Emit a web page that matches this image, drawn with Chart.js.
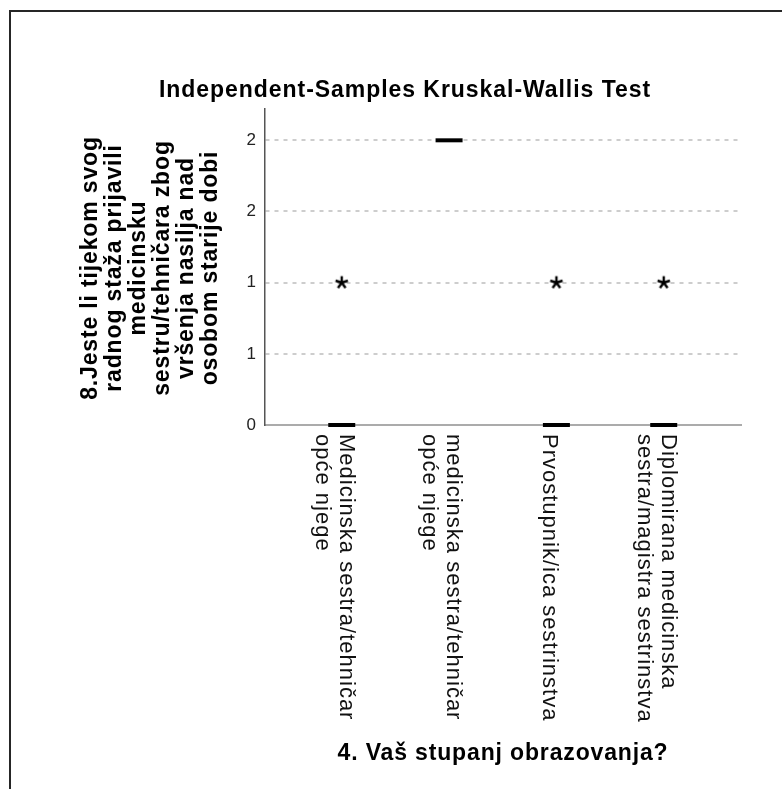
<!DOCTYPE html>
<html>
<head>
<meta charset="utf-8">
<script src="https://cdn.jsdelivr.net/npm/chart.js@4.4.0/dist/chart.umd.min.js"></script>
<style>
  html, body { margin: 0; padding: 0; background: #fff; overflow: hidden; }
  canvas { display: block; }
</style>
</head>
<body>
<canvas id="kwChart" width="782" height="789"></canvas>
<script>
const chartTitle = 'Independent-Samples Kruskal-Wallis Test';
const yTitle = [
  '8.Jeste li tijekom svog',
  'radnog staža prijavili',
  'medicinsku',
  'sestru/tehničara zbog',
  'vršenja nasilja nad',
  'osobom starije dobi'
];
const xTitle = '4. Vaš stupanj obrazovanja?';
const categories = [
  ['Medicinska sestra/tehničar', 'opće njege'],
  ['medicinska sestra/tehničar', 'opće njege'],
  ['Prvostupnik/ica sestrinstva'],
  ['Diplomirana medicinska', 'sestra/magistra sestrinstva']
];
const medians = [0, 2, 0, 0];
const extremes = [1, null, 1, 1];
const yTickValues = [0, 0.5, 1, 1.5, 2];
const yTickLabels = ['0', '1', '1', '2', '2'];

const FONT = '"Liberation Sans", Arial, sans-serif';

// SPSS style "*" marker for extreme values
function makeAsterisk() {
  const c = document.createElement('canvas');
  c.width = 18; c.height = 18;
  const g = c.getContext('2d');
  g.strokeStyle = '#000';
  g.lineWidth = 2.4;
  g.beginPath();
  for (let k = 0; k < 5; k++) {
    const a = -Math.PI / 2 + k * 2 * Math.PI / 5;
    g.moveTo(9, 9);
    g.lineTo(9 + 6.5 * Math.cos(a), 9 + 6.5 * Math.sin(a));
  }
  g.stroke();
  return c;
}

const textPlugin = {
  id: 'spssText',
  beforeDraw(chart) {
    const ctx = chart.ctx;
    ctx.save();
    ctx.fillStyle = '#fff';
    ctx.fillRect(0, 0, chart.width, chart.height);
    ctx.fillStyle = '#262626';
    ctx.fillRect(9, 10, 2, chart.height);
    ctx.fillRect(9, 10, chart.width, 2);
    ctx.restore();
  },
  afterDraw(chart) {
    const ctx = chart.ctx;
    const xs = chart.scales.x;
    const area = chart.chartArea;
    ctx.save();
    ctx.fillStyle = '#000';
    ctx.textBaseline = 'alphabetic';
    ctx.textAlign = 'center';
    ctx.font = 'bold 23px ' + FONT;

    // chart title
    ctx.letterSpacing = '0.95px';
    ctx.fillText(chartTitle, 405, 97);

    // x title
    ctx.letterSpacing = '0.85px';
    ctx.fillText(xTitle, (area.left + area.right) / 2, 760);

    // y title, rotated
    ctx.save();
    ctx.translate(0, 268);
    ctx.rotate(-Math.PI / 2);
    yTitle.forEach((line, i) => ctx.fillText(line, 0, 97 + 24 * i));
    ctx.restore();

    // category labels, rotated clockwise
    ctx.font = '22px ' + FONT;
    ctx.letterSpacing = '1px';
    ctx.fillStyle = '#111';
    ctx.textAlign = 'left';
    const pitch = 24, cap = 0.716 * 22;
    categories.forEach((lines, i) => {
      const px = xs.getPixelForValue(i + 1);
      const n = lines.length;
      lines.forEach((line, j) => {
        const mid = px - 6 + (n - 1) / 2 * pitch - j * pitch;
        const base = mid - cap / 2;
        ctx.save();
        ctx.translate(px, 434);
        ctx.rotate(Math.PI / 2);
        ctx.fillText(line, 0, px - base);
        ctx.restore();
      });
    });
    ctx.restore();
  }
};

new Chart(document.getElementById('kwChart').getContext('2d'), {
  type: 'scatter',
  data: {
    datasets: [
      {
        label: 'Median',
        data: medians.map((v, i) => ({ x: i + 1, y: v })),
        pointStyle: 'line',
        pointRadius: 13.5,
        pointHoverRadius: 13.5,
        borderWidth: 4,
        borderColor: '#000',
        backgroundColor: '#000',
        clip: false
      },
      {
        label: 'Extreme',
        data: extremes.map((v, i) => ({ x: i + 1, y: v })).filter(p => p.y !== null),
        pointStyle: makeAsterisk(),
        clip: false
      }
    ]
  },
  options: {
    responsive: false,
    animation: false,
    layout: { padding: { left: 0, top: 109, right: 41, bottom: 364 } },
    plugins: {
      legend: { display: false },
      tooltip: { enabled: false },
      title: { display: false }
    },
    scales: {
      x: {
        type: 'linear',
        min: 0.285,
        max: 4.72,
        ticks: { display: false },
        grid: { display: false },
        border: { color: '#ababab', width: 2 },
        afterFit: s => { s.height = 0; }
      },
      y: {
        type: 'linear',
        min: 0,
        max: 2.22,
        afterBuildTicks: s => { s.ticks = yTickValues.map(v => ({ value: v })); },
        ticks: {
          padding: 9,
          color: '#222',
          font: { family: FONT, size: 17 },
          callback: (v, i) => yTickLabels[i]
        },
        grid: {
          drawTicks: false,
          lineWidth: 2,
          color: c => (c.tick && c.tick.value === 0) ? 'rgba(0,0,0,0)' : '#cdcdcd'
        },
        border: { color: '#555', width: 1.5, dash: [4, 5] },
        afterFit: s => { s.width = 265; }
      }
    }
  },
  plugins: [textPlugin]
});
</script>
</body>
</html>
